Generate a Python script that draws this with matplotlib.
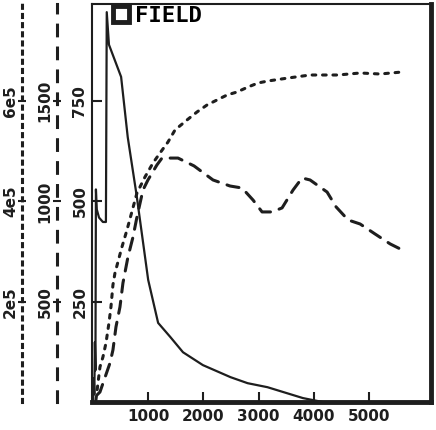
import matplotlib.pyplot as plt
from matplotlib.lines import Line2D

# FIELD (solid) -> inner axis 0..1000
field_x = [0, 15, 25, 35, 45, 54, 70, 110, 180, 235, 250, 290, 510, 630, 790, 1000,
           1180, 1400, 1630, 1990, 2490, 2800, 3160, 3800, 4200]
field_y = [0, 60, 20, 150, 80, 530, 480, 460, 449, 449, 971, 890, 810, 660, 516, 305,
           198, 163, 125, 93, 63, 48, 38, 11, 0]

# dashed curve -> middle axis 0..2000
dash_x = [72, 127, 308, 362, 417, 489, 543, 634, 725, 797, 906, 996, 1159, 1250, 1540,
          1830, 2174, 2482, 2700, 2899, 3062, 3243, 3424, 3623, 3786, 3931, 4239, 4402,
          4620, 4837, 5109, 5380, 5598]
dash_y = [37, 52, 196, 261, 376, 475, 594, 724, 823, 923, 1057, 1107, 1182, 1216, 1216,
          1177, 1107, 1077, 1067, 1007, 948, 948, 968, 1057, 1117, 1107, 1047, 973,
          908, 888, 838, 789, 759]

# dotted curve -> outer axis 0..8e5
dot_x = [54, 127, 181, 236, 290, 326, 362, 399, 525, 616, 797, 942, 1087, 1214, 1359,
         1486, 1703, 1884, 2065, 2246, 2428, 2609, 2808, 2989, 3170, 3533, 3931, 4438,
         4837, 5199, 5598]
dot_y = [5000, 70600, 90500, 118400, 158200, 190000, 233800, 257700, 309400, 343300,
         416900, 448700, 476600, 496500, 518400, 542300, 562200, 578100, 592000, 602000,
         611900, 617900, 627800, 635800, 639800, 645700, 651700, 651700, 655700, 653700,
         657700]

x_ticks = [1000, 2000, 3000, 4000, 5000]
y1_ticks = [250, 500, 750]
y2_ticks = [500, 1000, 1500]
y3_ticks = [2e5, 4e5, 6e5]
y3_labels = ['2e5', '4e5', '6e5']

ink = '#1e1e1e'
steps = 3.965  # axis height in tick steps

fig = plt.figure(figsize=(4.36, 4.30), dpi=100)
ax = fig.add_axes([0.21, 0.064, 0.7785, 0.9267])
ax2 = ax.twinx()
ax3 = ax.twinx()

ax.plot(field_x, field_y, color=ink, lw=1.6)
ax2.plot(dash_x, dash_y, color=ink, lw=2.2, dashes=(4, 3), dash_capstyle='round')
ax3.plot(dot_x, dot_y, color=ink, lw=2.2, dashes=(1.2, 2.2), dash_capstyle='round')

ax.set_xlim(-25, 6120)
ax.set_ylim(0, 250 * steps)
ax2.set_ylim(0, 500 * steps)
ax3.set_ylim(0, 2e5 * steps)

ax.set_xticks(x_ticks)
ax.set_xticklabels([str(v) for v in x_ticks], fontweight='bold', fontsize=11)
ax.tick_params(axis='x', direction='in', length=7, width=1.5, pad=5, colors=ink)

ax.set_yticks(y1_ticks)
ax.set_yticklabels([str(v) for v in y1_ticks], rotation=90, va='center',
                   fontweight='bold', fontsize=11)
ax.tick_params(axis='y', direction='in', length=7, width=1.5, pad=3, colors=ink)

for a, off, ticks, labels, ls in [
        (ax2, 25, y2_ticks, [str(v) for v in y2_ticks], (0, (3.5, 4))),
        (ax3, 50, y3_ticks, y3_labels, (0, (1, 2)))]:
    a.yaxis.set_ticks_position('left')
    a.yaxis.set_label_position('left')
    for s in ['top', 'right', 'bottom']:
        a.spines[s].set_visible(False)
    a.spines['left'].set_position(('outward', off))
    a.spines['left'].set_linestyle(ls)
    a.spines['left'].set_linewidth(2.2)
    a.spines['left'].set_color(ink)
    a.set_yticks(ticks)
    a.set_yticklabels(labels, rotation=90, va='center', fontweight='bold', fontsize=11)
    a.tick_params(axis='y', direction='inout', length=6, width=1.5, pad=0, colors=ink)

ax.spines['bottom'].set_linewidth(3.5)
ax.spines['right'].set_linewidth(3.5)
ax.spines['top'].set_linewidth(1.5)
ax.spines['left'].set_linewidth(1.5)
for s in ax.spines.values():
    s.set_color(ink)

handle = Line2D([], [], marker='s', linestyle='none', ms=11, mfc='white',
                mec=ink, mew=3.5)
ax3.legend([handle], ['FIELD'], loc='upper left', bbox_to_anchor=(0.06, 0.995),
           frameon=False, borderpad=0, borderaxespad=0, handlelength=0.8,
           handletextpad=0.25,
           prop={'family': 'DejaVu Sans Mono', 'size': 16, 'weight': 'bold'})

fig.savefig('out.png', dpi=100)
